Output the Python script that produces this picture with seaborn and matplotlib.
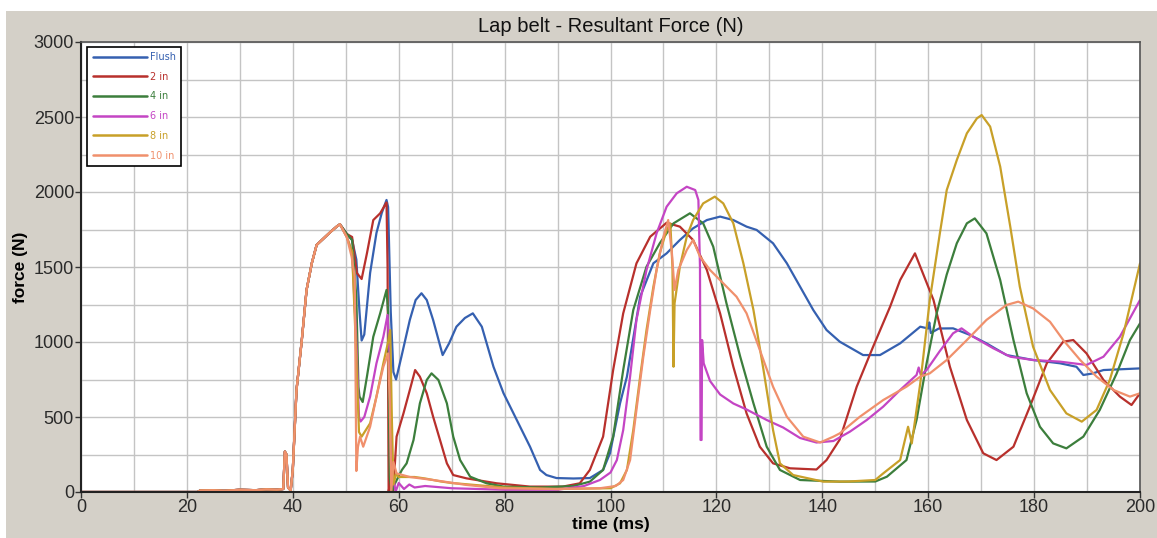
import numpy as np
import pandas as pd
import matplotlib
matplotlib.use("Agg")
import matplotlib.pyplot as plt
from matplotlib.patches import Rectangle
from matplotlib.lines import Line2D
import seaborn as sns

# ---------------- data ----------------
series_names = ["Flush", "2 in", "4 in", "6 in", "8 in", "10 in"]
series_colors = ["#3560B0", "#B8302C", "#3C7E3C", "#C445C4", "#C8A028", "#F0906C"]

# common onset shared by all configurations (0 - 49 ms)
onset_t = [0, 22, 22.5, 25, 27, 30, 33, 35, 37, 38.2, 38.5, 38.8, 39.1, 39.6, 40.0,
           40.7, 41.7, 42.6, 43.6, 44.5, 45.8, 47.0, 48.3, 48.9]
onset_f = [0, 0, 10, 12, 8, 15, 12, 18, 15, 20, 270, 250, 30, 10, 150,
           680, 1013, 1347, 1527, 1647, 1690, 1730, 1770, 1785]

flush_t = [50.2, 51.2, 52.0, 52.6, 53.0, 53.5, 54.6, 55.8, 56.8, 57.7, 58.0, 58.5, 59.0, 59.5,
           60.5, 62.1, 63.2, 64.3, 65.3, 66.5, 68.3, 69.5, 70.9, 72.5, 74.0, 75.7, 77.9, 79.8,
           82.3, 84.8, 86.7, 87.9, 89.8, 93, 96.1, 98.6, 99.9, 101.8, 103.1, 105.6, 108.1,
           110.6, 113.1, 115.6, 118.2, 120.7, 123.2, 125.7, 127.6, 130.7, 133.3, 135.8, 138.3,
           140.8, 143.3, 147.7, 150.9, 154.7, 158.5, 160.0, 160.2, 160.5, 162, 164.7, 167.9,
           171.0, 174.8, 179.8, 184.9, 188.0, 189.3, 191, 193.1, 200]
flush_f = [1720, 1680, 1550, 1200, 1010, 1050, 1460, 1727, 1860, 1947, 1900, 1200, 800, 750,
           900, 1147, 1280, 1325, 1280, 1147, 913, 990, 1102, 1160, 1191, 1102, 835, 658,
           480, 302, 147, 113, 93, 90, 93, 147, 258, 591, 769, 1302, 1525,
           1591, 1680, 1758, 1813, 1836, 1813, 1769, 1747, 1658, 1525, 1369, 1213,
           1080, 1002, 913, 913, 991, 1102, 1090, 1130, 1060, 1090, 1091, 1047,
           991, 913, 880, 858, 835, 780, 790, 813, 824]

in2_t = [50.2, 51.2, 52.1, 53.0, 54.0, 55.2, 56.5, 57.4, 57.7, 57.9, 58.1, 58.5, 58.9, 59.3,
         59.6, 60.9, 62.1, 63.1, 64.0, 65.3, 66.5, 67.8, 69.1, 70.3, 72.8, 78.5, 84.8, 91,
         94.2, 96.1, 98.6, 100.5, 102.4, 104.9, 107.5, 110.6, 113.1, 115.6, 118.2, 120.7,
         123.2, 125.7, 128.2, 130.7, 133.9, 138.9, 140.8, 143.3, 146.5, 149.6, 152.8, 154.7,
         157.5, 161.0, 164.1, 167.3, 170.4, 172.9, 176.1, 179.2, 182.4, 185.5, 187.4, 189.9,
         193.1, 196.2, 198.4, 200]
in2_f = [1720, 1700, 1460, 1420, 1591, 1813, 1858, 1913, 1930, 1500, 0, 100, 0, 200,
         369, 524, 680, 813, 769, 658, 502, 347, 191, 113, 91, 58, 36, 36,
         58, 147, 369, 813, 1191, 1524, 1702, 1795, 1769, 1680, 1480, 1191,
         835, 524, 302, 191, 158, 150, 213, 350, 702, 969, 1235, 1413,
         1591, 1280, 835, 480, 258, 213, 302, 569, 858, 1002, 1013, 924,
         747, 636, 580, 658]

in4_t = [50.2, 51.2, 52.0, 52.4, 52.6, 53.2, 54.0, 55.2, 56.5, 57.7, 58.0, 58.3, 58.7, 59.2,
         60.6, 61.5, 62.8, 64.0, 65.3, 66.2, 67.5, 69.1, 70.3, 71.6, 73.5, 76.6, 79.8, 86.7,
         93, 96.1, 98.6, 100.5, 102.4, 104.3, 106.8, 109.3, 111.9, 115.0, 117.5, 119.4,
         121.9, 124.5, 127.0, 129.5, 132.0, 135.8, 143.3, 150, 152.2, 155.9, 157.8, 159.7,
         161.6, 163.5, 165.4, 167.3, 168.8, 171.0, 173.6, 176.1, 178.6, 181.1, 183.6, 186.1,
         189.3, 192.4, 195.6, 198.1, 200]
in4_f = [1720, 1680, 1300, 700, 636, 600, 769, 1035, 1191, 1347, 1200, 100, 0, 50,
         147, 191, 347, 591, 747, 791, 747, 591, 369, 213, 102, 58, 36, 30,
         40, 69, 147, 369, 813, 1213, 1502, 1658, 1791, 1858, 1791, 1636,
         1258, 902, 591, 302, 147, 80, 69, 70, 102, 213, 480, 858,
         1191, 1450, 1658, 1791, 1824, 1724, 1413, 1013, 658, 435, 324, 291,
         369, 547, 791, 1013, 1124]

in6_t = [50.2, 51.2, 52.0, 52.5, 52.8, 53.5, 54.6, 55.8, 57.1, 57.9, 58.3, 58.6, 59.0, 59.4,
         60, 61, 62, 63, 65, 70, 75, 80, 90, 95, 98, 100, 101.2, 102.4, 103.7, 104.9, 106.8,
         108.7, 110.6, 112.5, 114.4, 116.0, 116.6, 116.9, 117.0, 117.2, 117.3, 117.6, 118.8,
         120.7, 123.2, 125.7, 129.5, 132.6, 135.8, 138.9, 142.1, 145.2, 148.4, 151.5, 154.7,
         157.8, 158.2, 158.6, 159.7, 162.2, 164.7, 166.3, 168.5, 172.3, 175.5, 179.8, 184.9,
         189.9, 193.1, 196.2, 200]
in6_f = [1700, 1600, 1000, 500, 470, 500, 636, 858, 1035, 1180, 900, 50, 100, 0,
         60, 20, 50, 30, 40, 25, 20, 15, 15, 40, 80, 130, 213, 413, 769, 1147, 1480,
         1724, 1902, 1991, 2035, 2013, 1947, 1500, 347, 347, 1013, 858, 740,
         650, 590, 550, 480, 430, 360, 330, 340, 402, 480, 569, 680,
         780, 830, 780, 813, 940, 1058, 1091, 1035, 958, 902, 880, 869,
         847, 902, 1035, 1280]

in8_t = [50.2, 51.2, 52.0, 52.5, 53.0, 54.6, 55.8, 57.1, 58.0, 58.4, 58.7, 59.0, 59.5, 60,
         63, 65, 68, 70, 75, 80, 90, 100, 101.8, 103.1, 104.3, 105.6, 106.8, 108.1, 109.3,
         110.6, 111.3, 111.7, 111.9, 112.1, 113.1, 114.4, 115.6, 117.5, 119.7, 121.3, 123.2,
         125.1, 127.0, 128.9, 130.7, 132.0, 134.5, 140.2, 145, 150, 151.5, 154.7, 156.2,
         156.9, 158.5, 160.3, 162.2, 163.5, 165.4, 167.3, 169.2, 170.1, 171.7, 173.6, 175.5,
         177.3, 179.8, 183.0, 186.1, 189.0, 191.8, 194.3, 196.9, 200]
in8_f = [1700, 1600, 900, 400, 369, 458, 636, 858, 1000, 1080, 500, 50, 120, 100,
         100, 90, 70, 60, 45, 30, 20, 25, 58, 147, 413, 769, 1080, 1369, 1591,
         1747, 1790, 1500, 835, 1258, 1502, 1702, 1813, 1924, 1969, 1924, 1791,
         1524, 1213, 813, 413, 191, 113, 69, 70, 80, 124, 213, 435,
         324, 724, 1280, 1724, 2013, 2213, 2391, 2491, 2513, 2436, 2169, 1769,
         1369, 969, 680, 524, 469, 547, 747, 1058, 1524]

in10_t = [50.2, 51.1, 51.7, 52.0, 52.3, 52.7, 53.3, 54.6, 55.8, 57.1, 58.0, 58.3, 58.6, 59.0,
          59.6, 62.1, 66.5, 72.8, 79, 90, 98, 101, 102.4, 103.7, 104.9, 106.2, 107.5, 108.7,
          110.0, 110.9, 111.6, 112.1, 112.8, 114.4, 115.6, 116.9, 118.8, 121.3, 123.8, 125.7,
          128.2, 130.7, 133.3, 136.4, 139.6, 142.1, 143.3, 147.1, 151.5, 155.9, 158.5, 160.3,
          163.5, 167.3, 171.0, 174.8, 177.0, 179.8, 183.0, 185.5, 188.7, 191.8, 195.0, 198.1, 200]
in10_f = [1700, 1569, 1436, 140, 300, 369, 302, 435, 636, 835, 924, 600, 0, 200,
          124, 100, 80, 47, 25, 20, 25, 40, 80, 213, 547, 902, 1213, 1480,
          1702, 1813, 1591, 1347, 1480, 1613, 1680, 1569, 1480, 1391, 1302, 1191,
          947, 702, 502, 369, 330, 369, 391, 502, 613, 702, 769, 791,
          880, 1013, 1147, 1247, 1269, 1224, 1135, 1013, 880, 769, 680, 636, 658]

x_ticks = [0, 20, 40, 60, 80, 100, 120, 140, 160, 180, 200]
y_ticks = [0, 500, 1000, 1500, 2000, 2500, 3000]

# ---------------- build long table ----------------
tails = [(flush_t, flush_f), (in2_t, in2_f), (in4_t, in4_f),
         (in6_t, in6_f), (in8_t, in8_f), (in10_t, in10_f)]
frames = []
for name, (tt, ff) in zip(series_names, tails):
    frames.append(pd.DataFrame({"time": list(onset_t) + list(tt),
                                "force": list(onset_f) + list(ff),
                                "config": name}))
df = pd.concat(frames, ignore_index=True)

# ---------------- figure ----------------
sns.set_theme(style="white")
plt.rcParams["font.family"] = ["Liberation Sans", "DejaVu Sans"]

W, H = 1157, 538
fig = plt.figure(figsize=(W / 100, H / 100), dpi=100, facecolor="white")
fig.patches.append(Rectangle((6 / W, 0), 1 - 6 / W, 1 - 11 / H, transform=fig.transFigure,
                             facecolor="#D4D0C8", edgecolor="none", zorder=-10))

ax = fig.add_axes([81 / W, 1 - 492 / H, (1140 - 81) / W, (492 - 42) / H])
ax.set_zorder(5)
ax.set_facecolor("white")

sns.lineplot(data=df, x="time", y="force", hue="config", hue_order=series_names,
             palette=dict(zip(series_names, series_colors)), estimator=None, sort=False,
             linewidth=1.6, ax=ax, legend=False)

ax.set_xlim(0, 200)
ax.set_ylim(0, 3000)
ax.set_xticks(x_ticks)
ax.set_yticks(y_ticks)
ax.set_xticks(np.arange(0, 201, 10), minor=True)
ax.set_yticks(np.arange(0, 3001, 250), minor=True)
ax.grid(True, which="both", color="#C4C4C4", linewidth=1.0)
ax.set_axisbelow(True)

ax.tick_params(axis="both", which="major", labelsize=13, colors="#333333",
               length=4, width=1, direction="out", pad=1, labelcolor="#2a2a2a")
ax.tick_params(axis="both", which="minor", length=0)
ax.tick_params(bottom=True, left=True)
for side in ["left", "bottom"]:
    ax.spines[side].set_color("#222222")
    ax.spines[side].set_linewidth(1.5)
for side in ["top", "right"]:
    ax.spines[side].set_color("#555555")
    ax.spines[side].set_linewidth(1.2)

ax.set_xlabel("time (ms)", fontsize=12.5, fontweight="bold", color="black", labelpad=1)
ax.set_ylabel("force (N)", fontsize=12.5, fontweight="bold", color="black", labelpad=4)
fig.text((81 + 1140) / 2 / W, 1 - 26 / H, "Lap belt - Resultant Force (N)",
         ha="center", va="center", fontsize=14.5, color="#111111")

handles = [Line2D([0], [0], color=c, linewidth=1.8) for c in series_colors]
leg = ax.legend(handles, series_names, loc="upper left", bbox_to_anchor=(0.004, 0.994),
                prop={"family": "DejaVu Sans", "size": 7}, frameon=True, fancybox=False,
                framealpha=1, edgecolor="black", handlelength=5.6, handletextpad=0.3,
                labelspacing=1.0, borderpad=0.55, borderaxespad=0.2)
leg.get_frame().set_linewidth(1.2)
for txt, c in zip(leg.get_texts(), series_colors):
    txt.set_color(c)

fig.savefig("out.png", dpi=100, facecolor=fig.get_facecolor())
